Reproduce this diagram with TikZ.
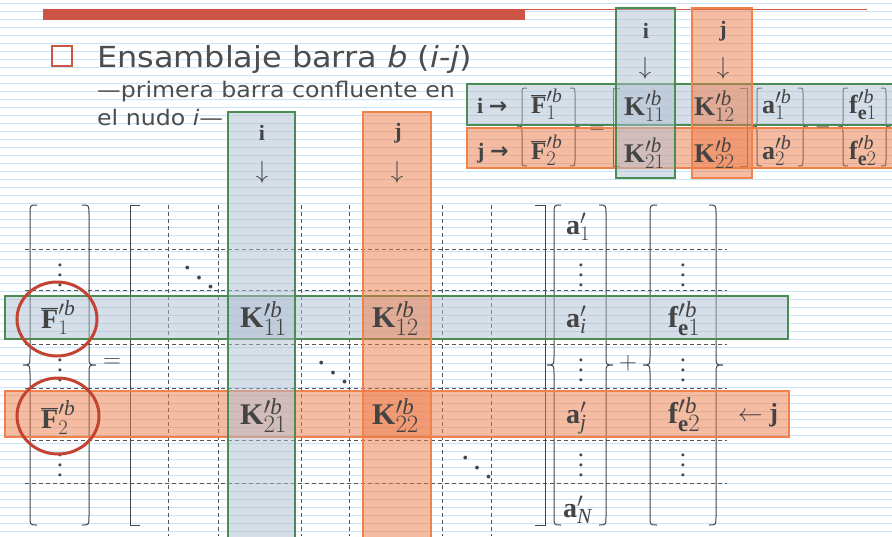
\documentclass[tikz,border=0pt]{standalone}
\usepackage{fontspec}
\setmainfont{Liberation Serif}
\newfontfamily\titlefont[FakeStretch=1.1]{DejaVu Sans}
\newfontfamily\arrowfont{DejaVu Sans}
\DeclareMathSizes{30}{30}{23}{17}
\DeclareMathSizes{28}{28}{21.5}{16}
\DeclareMathSizes{27}{27}{21}{15}
\DeclareMathSizes{26}{26}{20}{15}
\DeclareMathSizes{25}{25}{19.5}{14}
\DeclareMathSizes{24}{24}{19}{14}
\definecolor{ink}{RGB}{68,68,68}
\definecolor{ttl}{RGB}{77,77,77}
\definecolor{rulec}{RGB}{200,228,246}
\definecolor{redbar}{RGB}{205,85,70}
\definecolor{grnline}{RGB}{75,140,82}
\definecolor{grnfill}{RGB}{175,190,210}
\definecolor{orgline}{RGB}{242,130,75}
\definecolor{orgfill}{RGB}{238,122,70}
\definecolor{circred}{RGB}{196,68,52}
\definecolor{dashc}{RGB}{85,85,85}
\newcommand\myK[1]{$\mathbf{K}^{\prime\mathit{b}}_{#1}$}
\newcommand\myF[1]{$\overline{\mathbf{F}}^{\prime\mathit{b}}_{#1}$}
\newcommand\mya[1]{$\mathbf{a}^{\prime\mathit{b}}_{#1}$}
\newcommand\myf[1]{$\mathbf{f}^{\prime\mathit{b}}_{\mathbf{e}#1}$}
\newcommand\myaa[1]{$\mathbf{a}^{\prime}_{#1}$}
\newcommand\Brc[5]{\draw[brc] ({#1+#4},#2) .. controls ({#1+#4/2},#2) .. ({#1+#4/2},{#2+#5}) -- ({#1+#4/2},{(#2+#3)/2-#5}) .. controls ({#1+#4/2},{(#2+#3)/2}) .. (#1,{(#2+#3)/2}) .. controls ({#1+#4/2},{(#2+#3)/2}) .. ({#1+#4/2},{(#2+#3)/2+#5}) -- ({#1+#4/2},{#3-#5}) .. controls ({#1+#4/2},#3) .. ({#1+#4},#3);}
\tikzset{
  gband/.style={draw=grnline, line width=2.8pt, fill=grnfill, fill opacity=0.5},
  oband/.style={draw=orgline, line width=2.8pt, fill=orgfill, fill opacity=0.5},
  gridl/.style={dashc, line width=0.7pt, dash pattern=on 4pt off 3pt},
  brc/.style={ink, line width=1pt},
  ent/.style={text=ink, inner sep=0pt, anchor=base west},
  bigK/.style={ent, font=\fontsize{30}{32}\selectfont},
  bigF/.style={ent, font=\fontsize{28}{30}\selectfont},
  biga/.style={ent, font=\fontsize{28}{30}\selectfont},
  smK/.style={ent, font=\fontsize{27}{29}\selectfont},
  smF/.style={ent, font=\fontsize{25}{27}\selectfont},
  sma/.style={ent, font=\fontsize{26}{28}\selectfont},
  dts/.style={text=ink, inner sep=0pt, scale=2.5},
  ddts/.style={text=ink, inner sep=0pt, scale=3.2},
  lbl/.style={text=ink, inner sep=0pt, font=\fontsize{22}{24}\selectfont\bfseries},
  arr/.style={text=ink, inner sep=0pt, font=\fontsize{24}{26}\selectfont},
  opr/.style={text=ink, inner sep=0pt},
  ttlt/.style={text=ttl, inner sep=0pt, anchor=base west},
}
\begin{document}
\begin{tikzpicture}[x=1pt,y=-1pt]
\useasboundingbox (0,0) rectangle (892,536);
\fill[white] (0,0) rectangle (892,536);
% ruled background
\foreach \k in {0,...,66} \draw[rulec, line width=1.4pt] (0,{3.5+8*\k}) -- (892,{3.5+8*\k});
% header bar
\fill[redbar] (43,9) rectangle (525,20);
\draw[redbar, line width=1pt] (525,9.5) -- (867,9.5);
% title
\draw[redbar, line width=2.2pt] (52,46) rectangle (72,66);
\node[ttlt, font=\titlefont\fontsize{29}{32}\selectfont] (title) at (97,67) {Ensamblaje barra \textit{b} (\textit{i-j})};
\node[ttlt, font=\titlefont\fontsize{21.5}{24}\selectfont] (sub1) at (97,97) {—primera barra confluente en};
\node[ttlt, font=\titlefont\fontsize{21.5}{24}\selectfont] (sub2) at (97,125) {el nudo \textit{i}—};

% ===== main matrix grid =====
\foreach \y in {249,290,344,388,440,483} \draw[gridl] (25,\y) -- (727,\y);
\foreach \x in {168,218,301,349,442,491} \draw[gridl] (\x,205) -- (\x,536);
% braces / brackets
\Brc{23}{205}{525}{14}{9}
\Brc{96}{205}{525}{-14}{9}
\draw[brc] (140,205) -- (130,205) -- (130,525) -- (140,525);
\draw[brc] (535,205) -- (545,205) -- (545,525) -- (535,525);
\Brc{547}{205}{525}{14}{9}
\Brc{613}{205}{525}{-14}{9}
\Brc{643}{205}{525}{14}{9}
\Brc{723}{205}{525}{-14}{9}

% ===== mini equation =====
\Brc{517}{88}{166}{10}{6}
\Brc{580}{88}{166}{-10}{6}
\draw[brc] (620,88) -- (613,88) -- (613,166) -- (620,166);
\draw[brc] (740,88) -- (747,88) -- (747,166) -- (740,166);
\Brc{752}{88}{166}{10}{6}
\Brc{808}{88}{166}{-10}{6}
\Brc{838}{88}{166}{10}{6}
\Brc{891}{88}{166}{-10}{6}

% ===== bands =====
\path[gband] (5,296) rectangle (788,339);
\path[oband] (5,391) rectangle (789,437);
\path[gband] (228,112) rectangle (295,545);
\path[oband] (363,112) rectangle (431,545);
\path[gband] (467,84) rectangle (905,125);
\path[oband] (467,128) rectangle (905,168);
\path[gband] (616,8) rectangle (675,178);
\path[oband] (692,8) rectangle (752,178);

% ===== main entries =====
\node[bigF] (F1) at (41,328) {\myF{1}};
\node[bigF] (F2) at (41,428) {\myF{2}};
\node[dts] (vF1) at (60,268) {$\vdots$};
\node[dts] (vF2) at (60,363) {$\vdots$};
\node[dts] (vF3) at (60,458) {$\vdots$};
\node[opr, font=\fontsize{26}{28}\selectfont] (eq) at (112,363) {$=$};
\node[ddts] (d1) at (199,268) {$\ddots$};
\node[ddts] (d2) at (333,363) {$\ddots$};
\node[ddts] (d3) at (477,458) {$\ddots$};
\node[bigK] (K11) at (240,327) {\myK{11}};
\node[bigK] (K12) at (372,327) {\myK{12}};
\node[bigK] (K21) at (240,424) {\myK{21}};
\node[bigK] (K22) at (372,424) {\myK{22}};
\node[biga] (a1) at (566,234) {\myaa{1}};
\node[dts] (va1) at (581,268) {$\vdots$};
\node[biga] (ai) at (566,327) {\myaa{\mathit{i}}};
\node[dts] (va2) at (581,363) {$\vdots$};
\node[biga] (aj) at (566,423) {\myaa{\mathit{j}}};
\node[dts] (va3) at (581,458) {$\vdots$};
\node[biga] (aN) at (563,517) {\myaa{\mathit{N}}};
\node[opr, font=\fontsize{26}{28}\selectfont] (plus) at (628,363) {$+$};
\node[bigK] (fe1) at (668,327) {\myf{1}};
\node[dts] (vf1) at (683,268) {$\vdots$};
\node[dts] (vf2) at (683,363) {$\vdots$};
\node[dts] (vf3) at (683,458) {$\vdots$};
\node[bigK] (fe2) at (668,423) {\myf{2}};
\node[opr, font=\fontsize{26}{28}\selectfont] (jarr) at (758,415) {$\leftarrow$ \textbf{j}};
\node[lbl] (ci) at (262,133) {i};
\node[arr] (cia) at (262,172) {$\downarrow$};
\node[lbl] (cj) at (398,133) {j};
\node[arr] (cja) at (397,172) {$\downarrow$};

% ===== mini entries =====
\node[ent, font=\fontsize{22}{24}\selectfont] (ri) at (477,113) {\textbf{i} {\arrowfont\bfseries →}};
\node[ent, font=\fontsize{22}{24}\selectfont] (rj) at (477,158) {\textbf{j} {\arrowfont\bfseries →}};
\node[smF] (mF1) at (531,113) {\myF{1}};
\node[smF] (mF2) at (531,159) {\myF{2}};
\node[opr, font=\fontsize{22}{24}\selectfont] (meq) at (597,130) {$=$};
\node[smK] (mK11) at (624,115) {\myK{11}};
\node[smK] (mK12) at (694,115) {\myK{12}};
\node[smK] (mK21) at (624,162) {\myK{21}};
\node[smK] (mK22) at (694,162) {\myK{22}};
\node[sma] (ma1) at (762,113) {\mya{1}};
\node[sma] (ma2) at (762,159) {\mya{2}};
\node[opr, font=\fontsize{22}{24}\selectfont] (mminus) at (823,127) {$-$};
\node[sma] (mf1) at (849,113) {\myf{1}};
\node[sma] (mf2) at (849,159) {\myf{2}};
\node[lbl] (mci) at (646,31) {i};
\node[arr] (mcia) at (645,68) {$\downarrow$};
\node[lbl] (mcj) at (723,31) {j};
\node[arr] (mcja) at (723,68) {$\downarrow$};

% circles
\draw[circred, line width=3pt] (57,319) ellipse [x radius=40, y radius=37];
\draw[circred, line width=3pt] (58,416) ellipse [x radius=41, y radius=38];
\end{tikzpicture}
\end{document}
